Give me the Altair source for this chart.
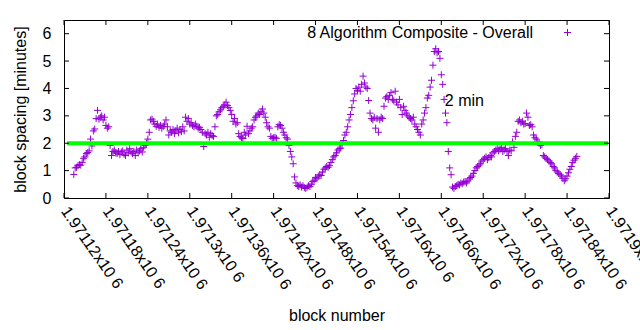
import altair as alt
import pandas as pd

# ---- data ----
first_block = 1971134          # first plotted block
block_step = 2                 # one value read every 2 blocks
spacing_minutes = [
    0.86, 1.10, 1.12, 1.18, 1.22, 1.20, 1.30, 1.45, 1.50, 1.62,
    1.66, 1.72, 2.15, 1.90, 2.45, 2.52, 2.90, 3.20, 2.88, 2.95,
    3.00, 2.85, 2.95, 2.65, 2.55, 2.60, 1.92, 1.55, 1.70, 1.75,
    1.65, 1.62, 1.70, 1.58, 1.68, 1.72, 1.60, 1.55, 1.75, 1.65,
    1.80, 1.68, 1.62, 1.70, 1.55, 1.75, 1.65, 1.72, 1.80, 1.68,
    1.85, 1.92, 2.00, 2.15, 2.40, 2.85, 2.88, 2.80, 2.70, 2.62,
    2.70, 2.58, 2.65, 2.55, 2.62, 2.70, 2.85, 2.60, 2.30, 2.45,
    2.40, 2.50, 2.35, 2.45, 2.55, 2.38, 2.50, 2.42, 2.60, 2.45,
    2.95, 2.80, 2.90, 2.70, 2.75, 2.65, 2.60, 2.70, 2.62, 2.55,
    2.58, 2.50, 2.40, 1.88, 2.35, 2.30, 2.40, 2.22, 2.35, 2.28,
    2.25, 2.60, 3.00, 3.05, 3.15, 3.22, 3.30, 3.35, 3.40, 3.50,
    3.38, 3.30, 3.20, 3.05, 2.80, 2.90, 2.70, 2.75, 2.35, 2.25,
    2.20, 2.17, 2.40, 2.30, 2.62, 2.35, 2.45, 2.55, 2.60, 2.85,
    2.95, 3.00, 3.10, 3.05, 3.15, 3.25, 3.10, 2.95, 2.75, 2.60,
    2.55, 2.25, 2.18, 2.20, 2.22, 2.18, 2.60, 2.68, 2.65, 2.55,
    2.40, 2.30, 2.20, 2.15, 1.92, 1.70, 1.50, 1.25, 0.77, 0.55,
    0.45, 0.42, 0.48, 0.40, 0.45, 0.38, 0.35, 0.40, 0.45, 0.42,
    0.50, 0.60, 0.65, 0.75, 0.70, 0.80, 0.85, 0.82, 0.95, 1.05,
    1.10, 1.15, 1.12, 1.18, 1.30, 1.40, 1.50, 1.55, 1.65, 1.75,
    1.80, 1.82, 1.95, 2.10, 2.30, 2.40, 2.60, 2.85, 3.05, 3.30,
    3.55, 3.80, 4.00, 3.92, 4.05, 3.90, 4.15, 4.45, 4.20, 4.05,
    4.00, 3.56, 3.10, 2.90, 2.85, 2.95, 2.55, 2.90, 2.40, 2.85,
    2.95, 2.90, 3.35, 3.65, 3.70, 3.60, 3.75, 3.85, 3.60, 3.55,
    3.90, 3.50, 3.40, 3.60, 3.30, 3.05, 3.35, 3.20, 3.10, 3.00,
    2.95, 2.90, 2.85, 2.95, 2.70, 2.60, 2.50, 2.40, 2.30, 2.70,
    2.85, 3.10, 3.30, 3.65, 3.75, 4.05, 4.30, 4.85, 5.35, 5.45,
    5.30, 5.35, 5.10, 4.50, 4.15, 3.60, 3.10, 2.75, 1.70, 1.10,
    0.85, 0.40, 0.35, 0.42, 0.45, 0.50, 0.48, 0.55, 0.52, 0.58,
    0.60, 0.55, 0.62, 0.70, 0.75, 0.80, 0.90, 1.00, 1.10, 1.15,
    1.20, 1.25, 1.35, 1.40, 1.45, 1.50, 1.40, 1.48, 1.55, 1.50,
    1.65, 1.70, 1.75, 1.80, 1.72, 1.78, 1.85, 1.70, 1.75, 1.80,
    1.70, 1.55, 1.75, 1.72, 2.05, 1.85, 2.25, 2.40, 2.80, 2.85,
    2.75, 2.80, 2.70, 2.72, 3.10, 2.95, 2.65, 2.68, 2.60, 2.30,
    2.20, 2.15, 2.05, 2.00, 1.92, 1.95, 1.55, 1.50, 1.45, 1.40,
    1.35, 1.30, 1.25, 1.15, 1.10, 1.00, 0.95, 0.90, 0.85, 0.80,
    0.72, 0.63, 0.70, 0.80, 0.92, 1.05, 1.15, 1.30, 1.38, 1.45,
    1.52,
]
blocks = [first_block + block_step * i for i in range(len(spacing_minutes))]

x_ticks = [1971120, 1971180, 1971240, 1971300, 1971360, 1971420, 1971480,
           1971540, 1971600, 1971660, 1971720, 1971780, 1971840, 1971900]
y_ticks = [0, 1, 2, 3, 4, 5, 6]
target_minutes = [2]
note_x = [1971665]
note_y = [3.53]
note_text = ["2 min"]
series_name = "8 Algorithm Composite - Overall"

# ---- styling ----
W, H = 545, 178
FONT = "Liberation Sans"
PURPLE = "#9400d3"
PLUS = "M-1,0H1M0,-1V1"
TICK = 5

xscale = alt.Scale(domain=[1971120, 1971900], nice=False, zero=False)
yscale = alt.Scale(domain=[0, 6.5], nice=False, zero=False)

xaxis = alt.Axis(
    values=x_ticks,
    labelExpr="format(datum.value / 1000000, '.5~f') + 'x10 6'",
    labelAngle=55, labelAlign="left", labelBaseline="middle",
    labelPadding=10, labelOverlap=False, labelFlush=False, labelBound=False,
    ticks=False, domain=False, grid=False,
    title="block number", titleY=117, titleBaseline="middle",
)
yaxis = alt.Axis(
    values=y_ticks, format="d",
    labelPadding=13, labelBaseline="middle",
    ticks=False, domain=False, grid=False,
    title="block spacing [minutes]", titleX=-44, titleY=H / 2,
    titleAngle=-90, titleBaseline="middle", titleAlign="center",
)


def X(field):
    return alt.X(field, scale=xscale, axis=xaxis)


def Y(field):
    return alt.Y(field, scale=yscale, axis=yaxis)


df = pd.DataFrame({"block": blocks, "spacing": spacing_minutes})

points = alt.Chart(df).mark_point(
    shape=PLUS, filled=False, size=49, strokeWidth=1, color=PURPLE, opacity=1
).encode(x=X("block:Q"), y=Y("spacing:Q"))

target = alt.Chart(pd.DataFrame({"m": target_minutes})).mark_rule(
    color="#00ff00", strokeWidth=4
).encode(y=Y("m:Q"), x=alt.value(3), x2=alt.value(W - 1))

note = alt.Chart(pd.DataFrame({"x": note_x, "y": note_y, "t": note_text})).mark_text(
    align="left", baseline="middle", font=FONT, fontSize=16, color="black"
).encode(x=X("x:Q"), y=Y("y:Q"), text="t:N")

xt = pd.DataFrame({"t": x_ticks})
yt = pd.DataFrame({"t": y_ticks})
rule = dict(color="black", strokeWidth=1)
xt_bottom = alt.Chart(xt).mark_rule(**rule).encode(
    x=X("t:Q"), y=alt.value(H), y2=alt.value(H - TICK))
xt_top = alt.Chart(xt).mark_rule(**rule).encode(
    x=X("t:Q"), y=alt.value(0), y2=alt.value(TICK))
yt_left = alt.Chart(yt).mark_rule(**rule).encode(
    y=Y("t:Q"), x=alt.value(0), x2=alt.value(TICK))
yt_right = alt.Chart(yt).mark_rule(**rule).encode(
    y=Y("t:Q"), x=alt.value(W - TICK), x2=alt.value(W))

key_df = pd.DataFrame({"name": [series_name]})
key_text = alt.Chart(key_df).mark_text(
    align="right", baseline="middle", font=FONT, fontSize=16, color="black"
).encode(text="name:N", x=alt.value(469), y=alt.value(13))
key_mark = alt.Chart(key_df).mark_point(
    shape=PLUS, filled=False, size=49, strokeWidth=1, color=PURPLE, opacity=1
).encode(x=alt.value(503.5), y=alt.value(12.5))

chart = alt.layer(
    points, target, note, xt_bottom, xt_top, yt_left, yt_right, key_text, key_mark
).properties(
    width=W, height=H,
    autosize=alt.AutoSizeParams(type="none"),
    padding={"left": 64, "top": 20, "right": 31, "bottom": 132},
    background="white",
).configure_view(
    stroke="black", strokeWidth=1
).configure_axis(
    labelFont=FONT, titleFont=FONT, labelFontSize=16, titleFontSize=16,
    labelColor="black", titleColor="black", titleFontWeight="normal",
)

chart.save("out.html", embed_options={"renderer": "svg", "actions": False})
